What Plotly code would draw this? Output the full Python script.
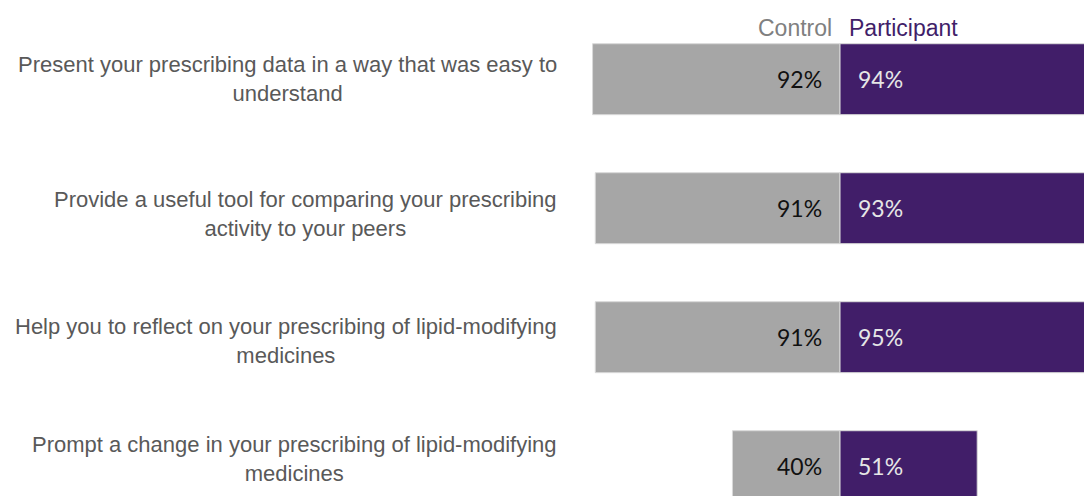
import plotly.graph_objects as go

# survey statements and agreement shares (%)
statements = [
    "Present your prescribing data in a way that was easy to<br>understand",
    "Provide a useful tool for comparing your prescribing<br>activity to your peers",
    "Help you to reflect on your prescribing of lipid-modifying<br>medicines",
    "Prompt a change in your prescribing of lipid-modifying<br>medicines",
]
control = [92, 91, 91, 40]
participant = [94, 93, 95, 51]

GREY = "#a6a6a6"
PURPLE = "#411e69"
NARROW = "Liberation Sans Narrow, Arial Narrow, Liberation Sans, Arial, sans-serif"
VALUE_FONT = "Lato, Calibri, sans-serif"

rows = list(range(len(statements)))
# small vertical nudges of the statement text, as in the original slide
label_nudge = [0, -6, -4, 7]

fig = go.Figure()

fig.add_trace(go.Bar(
    y=rows,
    x=[-v for v in control],
    orientation="h",
    marker=dict(color=GREY, line=dict(color="#d9d9d9", width=1)),
    width=0.55,
    name="Control",
    hoverinfo="skip",
))
fig.add_trace(go.Bar(
    y=rows,
    x=participant,
    orientation="h",
    marker=dict(color=PURPLE, line=dict(color="#d9d9d9", width=1)),
    width=0.55,
    name="Participant",
    hoverinfo="skip",
))

# value labels at the base of each bar
for i in rows:
    fig.add_annotation(x=0, y=i, text=f"{control[i]}%", showarrow=False,
                       xanchor="right", yanchor="middle", xshift=-16,
                       font=dict(family=VALUE_FONT, size=23, color="#111111"))
    fig.add_annotation(x=0, y=i, text=f"{participant[i]}%", showarrow=False,
                       xanchor="left", yanchor="middle", xshift=16,
                       font=dict(family=VALUE_FONT, size=23, color="#e6e6e6"))
    # statement text on the left
    fig.add_annotation(x=559 / 1084, xref="paper", y=i, text=statements[i],
                       showarrow=False, xanchor="right", yanchor="middle",
                       align="center", yshift=label_nudge[i],
                       font=dict(family=NARROW, size=22, color="#595959"))

# column headers
fig.add_annotation(x=0, y=0.9435, yref="paper", text="Control", showarrow=False,
                   xanchor="right", yanchor="middle", xshift=-6,
                   font=dict(family=NARROW, size=23, color="#808080"))
fig.add_annotation(x=0, y=0.9435, yref="paper", text="Participant", showarrow=False,
                   xanchor="left", yanchor="middle", xshift=7,
                   font=dict(family=NARROW, size=23, color=PURPLE))

fig.update_layout(
    width=1084,
    height=496,
    barmode="relative",
    showlegend=False,
    plot_bgcolor="white",
    paper_bgcolor="white",
    margin=dict(l=0, r=0, t=0, b=0),
)
fig.update_xaxes(range=[-312.3, 90.7], visible=False)
fig.update_yaxes(range=[3.231, -0.614], visible=False)

fig.write_html(
    "out.html",
    config={"displayModeBar": False},
    post_script="document.body.style.margin='0';document.body.style.overflow='hidden';",
)
